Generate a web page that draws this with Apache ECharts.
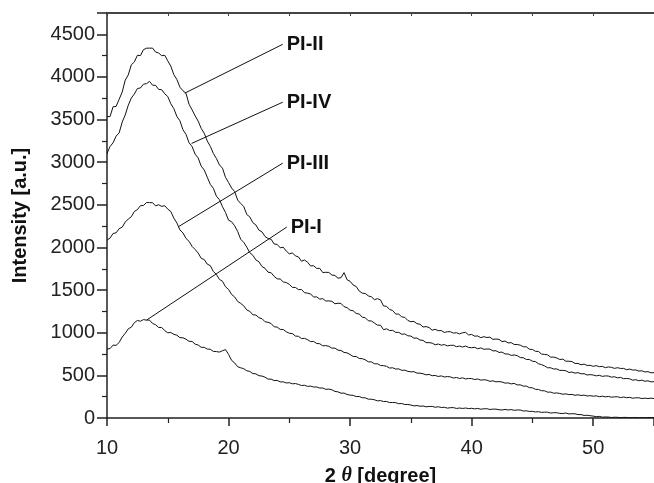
<!DOCTYPE html>
<html>
<head>
<meta charset="utf-8">
<script src="https://cdn.jsdelivr.net/npm/echarts@6/dist/echarts.min.js"></script>
<style>
  html, body { margin: 0; padding: 0; background: #fff; }
  #chart { width: 654px; height: 483px; }
</style>
</head>
<body>
<div id="chart"></div>
<script>
// 2 theta grid (degree), 0.25 step
const twoTheta = [
  10, 10.25, 10.5, 10.75, 11, 11.25, 11.5, 11.75, 12, 12.25, 12.5, 12.75, 13, 13.25, 13.5, 13.75, 14, 14.25, 14.5, 14.75,
  15, 15.25, 15.5, 15.75, 16, 16.25, 16.5, 16.75, 17, 17.25, 17.5, 17.75, 18, 18.25, 18.5, 18.75, 19, 19.25, 19.5, 19.75,
  20, 20.25, 20.5, 20.75, 21, 21.25, 21.5, 21.75, 22, 22.25, 22.5, 22.75, 23, 23.25, 23.5, 23.75, 24, 24.25, 24.5, 24.75,
  25, 25.25, 25.5, 25.75, 26, 26.25, 26.5, 26.75, 27, 27.25, 27.5, 27.75, 28, 28.25, 28.5, 28.75, 29, 29.25, 29.5, 29.75,
  30, 30.25, 30.5, 30.75, 31, 31.25, 31.5, 31.75, 32, 32.25, 32.5, 32.75, 33, 33.25, 33.5, 33.75, 34, 34.25, 34.5, 34.75,
  35, 35.25, 35.5, 35.75, 36, 36.25, 36.5, 36.75, 37, 37.25, 37.5, 37.75, 38, 38.25, 38.5, 38.75, 39, 39.25, 39.5, 39.75,
  40, 40.25, 40.5, 40.75, 41, 41.25, 41.5, 41.75, 42, 42.25, 42.5, 42.75, 43, 43.25, 43.5, 43.75, 44, 44.25, 44.5, 44.75,
  45, 45.25, 45.5, 45.75, 46, 46.25, 46.5, 46.75, 47, 47.25, 47.5, 47.75, 48, 48.25, 48.5, 48.75, 49, 49.25, 49.5, 49.75,
  50, 50.25, 50.5, 50.75, 51, 51.25, 51.5, 51.75, 52, 52.25, 52.5, 52.75, 53, 53.25, 53.5, 53.75, 54, 54.25, 54.5, 54.75,
  55
];

const piII = [
  3535, 3535, 3650, 3655, 3738, 3822, 3962, 4024, 4142, 4176, 4254, 4250, 4320, 4337, 4338, 4338, 4292, 4281, 4249, 4254,
  4189, 4126, 4026, 3970, 3880, 3838, 3808, 3680, 3614, 3544, 3482, 3396, 3340, 3248, 3186, 3102, 3044, 2968, 2930, 2822,
  2762, 2697, 2656, 2556, 2516, 2480, 2387, 2358, 2291, 2264, 2203, 2183, 2129, 2105, 2097, 2041, 2036, 1996, 2003, 1958,
  1925, 1937, 1901, 1889, 1839, 1853, 1827, 1783, 1786, 1754, 1755, 1706, 1709, 1707, 1677, 1671, 1640, 1645, 1705, 1622,
  1603, 1560, 1542, 1489, 1464, 1460, 1432, 1421, 1388, 1400, 1385, 1314, 1310, 1272, 1261, 1220, 1218, 1186, 1180, 1144,
  1129, 1133, 1106, 1100, 1067, 1072, 1061, 1030, 1040, 1024, 1026, 1004, 1012, 1012, 996, 1000, 986, 1000, 1004, 974,
  980, 960, 962, 942, 954, 944, 948, 922, 926, 922, 896, 902, 880, 884, 862, 862, 854, 836, 834, 806,
  804, 782, 780, 750, 746, 740, 714, 714, 704, 686, 690, 666, 666, 662, 640, 640, 624, 632, 616, 618,
  606, 614, 602, 606, 590, 599, 594, 582, 590, 581, 582, 566, 574, 562, 564, 550, 554, 540, 544, 530,
  532
];

const piIV = [
  3102, 3184, 3228, 3306, 3344, 3470, 3554, 3668, 3752, 3800, 3864, 3871, 3915, 3921, 3948, 3903, 3901, 3854, 3850, 3802,
  3770, 3686, 3628, 3536, 3486, 3380, 3326, 3228, 3184, 3094, 3050, 2954, 2908, 2824, 2740, 2694, 2602, 2561, 2478, 2410,
  2320, 2302, 2254, 2188, 2096, 2060, 2004, 1938, 1908, 1854, 1832, 1777, 1756, 1710, 1704, 1661, 1632, 1630, 1596, 1588,
  1568, 1532, 1531, 1506, 1507, 1470, 1464, 1455, 1418, 1421, 1394, 1400, 1372, 1374, 1368, 1340, 1346, 1344, 1306, 1294,
  1264, 1258, 1226, 1220, 1182, 1176, 1140, 1138, 1114, 1089, 1088, 1036, 1046, 1026, 1028, 1004, 1004, 982, 986, 964,
  961, 936, 938, 914, 911, 884, 884, 878, 859, 868, 854, 861, 846, 852, 853, 836, 844, 832, 844, 828,
  824, 829, 812, 822, 806, 809, 808, 787, 789, 769, 773, 751, 751, 734, 739, 731, 709, 707, 686, 686,
  666, 661, 636, 626, 611, 589, 589, 574, 576, 558, 559, 554, 534, 539, 526, 532, 518, 520, 504, 509,
  504, 494, 501, 488, 494, 492, 479, 484, 471, 476, 461, 464, 459, 444, 449, 437, 444, 431, 436, 424,
  426
];

const piIII = [
  2086, 2110, 2164, 2172, 2220, 2238, 2298, 2334, 2360, 2422, 2444, 2490, 2492, 2527, 2526, 2525, 2488, 2501, 2482, 2490,
  2450, 2422, 2344, 2288, 2206, 2170, 2106, 2072, 2012, 1976, 1935, 1873, 1858, 1804, 1787, 1717, 1684, 1625, 1604, 1539,
  1508, 1449, 1420, 1367, 1344, 1315, 1267, 1251, 1210, 1208, 1176, 1165, 1129, 1122, 1108, 1070, 1066, 1039, 1038, 1011,
  994, 990, 961, 958, 932, 934, 919, 896, 898, 874, 871, 847, 849, 841, 819, 820, 796, 792, 769, 764,
  744, 722, 721, 698, 696, 682, 659, 658, 636, 636, 616, 614, 606, 586, 589, 574, 576, 559, 561, 547,
  541, 544, 526, 526, 519, 506, 511, 496, 499, 487, 494, 481, 486, 482, 469, 475, 464, 471, 458, 464,
  462, 451, 458, 444, 449, 444, 430, 436, 424, 427, 422, 409, 412, 400, 406, 388, 389, 374, 374, 356,
  354, 336, 334, 320, 319, 303, 304, 291, 294, 288, 279, 283, 274, 277, 266, 272, 264, 268, 258, 262,
  256, 260, 250, 256, 248, 253, 244, 248, 249, 239, 246, 238, 242, 232, 237, 237, 228, 233, 228, 233,
  228
];

const piI = [
  808, 814, 855, 852, 886, 950, 992, 1046, 1065, 1118, 1144, 1135, 1154, 1148, 1148, 1109, 1094, 1062, 1061, 1026,
  999, 1003, 981, 971, 942, 941, 924, 899, 898, 866, 856, 829, 829, 808, 806, 781, 779, 773, 789, 802,
  746, 676, 646, 601, 589, 578, 554, 546, 521, 518, 496, 492, 479, 456, 456, 439, 441, 424, 424, 411,
  414, 401, 404, 394, 381, 384, 371, 374, 363, 364, 351, 352, 336, 339, 332, 311, 307, 291, 292, 276,
  268, 266, 251, 252, 238, 236, 221, 220, 214, 201, 204, 193, 194, 181, 182, 180, 168, 170, 158, 159,
  152, 142, 146, 138, 141, 131, 135, 136, 126, 132, 123, 126, 116, 121, 122, 112, 117, 112, 117, 110,
  114, 107, 112, 103, 108, 109, 100, 104, 104, 97, 94, 101, 94, 99, 90, 94, 94, 82, 84, 77,
  78, 71, 74, 66, 68, 68, 58, 62, 62, 54, 53, 58, 48, 50, 49, 40, 40, 30, 32, 27,
  22, 15, 19, 10, 12, 11, 6, 9, 8, 4, 7, 7, 3, 6, 6, 2, 6, 1, 5, 5,
  4
];

// leader lines: [point on curve, label anchor]
const labelNames = ['PI-II', 'PI-IV', 'PI-III', 'PI-I'];
const leaderII = [[16.4, 3810], [24.46, 4383]];
const leaderIV = [[16.96, 3220], [24.46, 3704]];
const leaderIII = [[15.86, 2242], [24.46, 2989]];
const leaderI = [[13.26, 1149], [24.79, 2239]];

const yTicks = [0, 500, 1000, 1500, 2000, 2500, 3000, 3500, 4000, 4500];
const xTicks = [10, 20, 30, 40, 50];

const axisFont = 'Liberation Sans, Arial, sans-serif';

function pairs(ys) {
  return twoTheta.map((x, i) => [x, ys[i]]);
}

function curve(name, ys) {
  return {
    name: name,
    type: 'line',
    data: pairs(ys),
    symbol: 'none',
    lineStyle: {color: '#111', width: 1},
    silent: true,
    z: 3
  };
}

function leader(name, pts) {
  return {
    name: name + '-leader',
    type: 'line',
    data: pts,
    symbol: 'none',
    lineStyle: {color: '#111', width: 1},
    endLabel: {
      show: true,
      formatter: name,
      distance: 4,
      color: '#111',
      fontFamily: axisFont,
      fontWeight: 'bold',
      fontSize: 20
    },
    silent: true,
    z: 4
  };
}

let option = {
  backgroundColor: '#fff',
  animation: false,
  grid: {left: 107, right: 0, top: 13, bottom: 65, containLabel: false, outerBoundsMode: 'none'},
  xAxis: [
    {
      type: 'value',
      position: 'bottom',
      min: 10,
      max: 55,
      interval: 10,
      name: '2 {t|θ} [degree]',
      nameLocation: 'middle',
      nameGap: 48,
      nameTextStyle: {
        color: '#111',
        fontFamily: axisFont,
        fontWeight: 'bold',
        fontSize: 20,
        rich: {
          t: {fontFamily: 'Liberation Serif, serif', fontStyle: 'italic', fontWeight: 'bold', fontSize: 20, color: '#111'}
        }
      },
      axisLine: {show: true, onZero: false, lineStyle: {color: '#222', width: 1.5}},
      axisTick: {show: true, inside: false, length: 8, lineStyle: {color: '#222', width: 1.5}},
      minorTick: {show: true, splitNumber: 2, length: 5, lineStyle: {color: '#222', width: 1.2}},
      axisLabel: {
        color: '#222',
        fontFamily: axisFont,
        fontSize: 20,
        margin: 20,
        formatter: v => (xTicks.indexOf(v) >= 0 ? String(v) : '')
      },
      splitLine: {show: false}
    },
    {
      type: 'value',
      position: 'top',
      min: 10,
      max: 55,
      interval: 5,
      axisLine: {show: true, onZero: false, lineStyle: {color: '#444', width: 2}},
      axisTick: {show: true, inside: true, length: 3, lineStyle: {color: '#444', width: 1}},
      axisLabel: {show: false},
      splitLine: {show: false}
    }
  ],
  yAxis: {
    type: 'value',
    min: 0,
    max: 4750,
    interval: 500,
    name: 'Intensity [a.u.]',
    nameLocation: 'middle',
    nameGap: 77,
    nameTextStyle: {
      color: '#111',
      fontFamily: axisFont,
      fontWeight: 'bold',
      fontSize: 20
    },
    axisLine: {show: true, onZero: false, lineStyle: {color: '#222', width: 1.5}},
    axisTick: {show: true, inside: false, length: 10, lineStyle: {color: '#222', width: 1.5}},
    minorTick: {show: true, splitNumber: 2, length: 5, lineStyle: {color: '#222', width: 1.2}},
    axisLabel: {
      color: '#222',
      fontFamily: axisFont,
      fontSize: 20,
      margin: 12,
      formatter: v => (yTicks.indexOf(v) >= 0 ? String(v) : '')
    },
    splitLine: {show: false}
  },
  series: [
    curve('PI-II', piII),
    curve('PI-IV', piIV),
    curve('PI-III', piIII),
    curve('PI-I', piI),
    leader(labelNames[0], leaderII),
    leader(labelNames[1], leaderIV),
    leader(labelNames[2], leaderIII),
    leader(labelNames[3], leaderI)
  ]
};

let myChart = echarts.init(document.getElementById('chart'), null, {renderer: 'canvas'});
myChart.setOption(option);
</script>
</body>
</html>
